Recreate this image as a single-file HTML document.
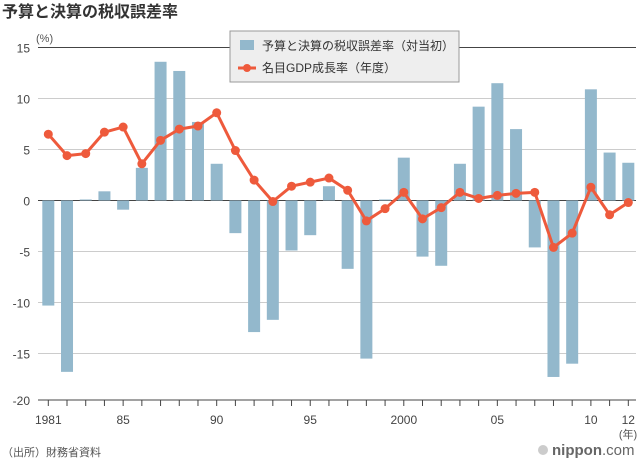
<!DOCTYPE html>
<html><head><meta charset="utf-8"><style>
body{margin:0;background:#fff;font-family:"Liberation Sans","Noto Sans CJK JP",sans-serif;}
svg text{font-family:"Liberation Sans","Noto Sans CJK JP",sans-serif;}
</style></head><body>
<svg id="c" width="640" height="460">
<text x="2" y="17" font-size="16" font-weight="bold" fill="#333">予算と決算の税収誤差率</text>
<text x="36" y="42" font-size="11" fill="#555">(%)</text>
<g id="grid"></g><g id="bars"></g><g id="line"></g><g id="axis"></g>
<g>
<rect x="230" y="31" width="229" height="51" fill="#eee" stroke="#999"/>
<rect x="240" y="40" width="14" height="10" fill="#93b8cc"/>
<text x="262" y="50" font-size="12" fill="#333">予算と決算の税収誤差率（対当初）</text>
<line x1="238" y1="68" x2="256" y2="68" stroke="#ee5a3c" stroke-width="3"/><circle cx="247" cy="68" r="4" fill="#ee5a3c"/>
<text x="262" y="72" font-size="12" fill="#333">名目GDP成長率（年度）</text>
</g>
<text x="2" y="456" font-size="11" fill="#555">（出所）財務省資料</text>
<circle cx="543" cy="450" r="5" fill="#ccc"/>
<text x="552" y="455" font-size="15" font-weight="bold" fill="#666">nippon<tspan font-weight="normal">.com</tspan></text>
</svg>
<script>
const years=[1981,1982,1983,1984,1985,1986,1987,1988,1989,1990,1991,1992,1993,1994,1995,1996,1997,1998,1999,2000,2001,2002,2003,2004,2005,2006,2007,2008,2009,2010,2011,2012];
const taxError=[-10.3,-16.8,0.1,0.9,-0.9,3.2,13.6,12.7,7.7,3.6,-3.2,-12.9,-11.7,-4.9,-3.4,1.4,-6.7,-15.5,0.1,4.2,-5.5,-6.4,3.6,9.2,11.5,7.0,-4.6,-17.3,-16.0,10.9,4.7,3.7];
const gdpGrowth=[6.5,4.4,4.6,6.7,7.2,3.6,5.9,7.0,7.3,8.6,4.9,2.0,-0.1,1.4,1.8,2.2,1.0,-2.0,-0.8,0.8,-1.8,-0.7,0.8,0.2,0.5,0.7,0.8,-4.6,-3.2,1.3,-1.4,-0.2];
const yTicks=[15,10,5,0,-5,-10,-15,-20];
const xLabels=[[1981,"1981"],[1985,"85"],[1990,"90"],[1995,"95"],[2000,"2000"],[2005,"05"],[2010,"10"],[2012,"12"]];
const NS="http://www.w3.org/2000/svg";
const x=yr=>48.3+(yr-1981)*18.71;
const y=v=>200.5-v*10.2;
function mk(p,t,a){const e=document.createElementNS(NS,t);for(const k in a)e.setAttribute(k,a[k]);document.getElementById(p).appendChild(e);return e;}
yTicks.forEach(t=>{
 const yy=t===-20?400:y(t);
 const l=mk('grid','line',{x1:38,x2:636,y1:yy,y2:yy,stroke:(t===15||t===0||t===-20)?'#444':'#ccc','stroke-width':1});
 
 
 const tx=mk('grid','text',{x:30,y:yy+5,'font-size':12,fill:'#444','text-anchor':'end'});tx.textContent=t;
 
 
});
years.forEach((yr,i)=>{
 const v=taxError[i];
 const r=mk('bars','rect',{x:x(yr)-6,width:12,y:Math.min(y(v),y(0)),height:Math.abs(y(v)-y(0)),fill:'#93b8cc'});
 
 
 mk('axis','line',{x1:x(yr),x2:x(yr),y1:400,y2:406,stroke:'#444'});
});
mk('grid','line',{x1:38,x2:636,y1:y(0),y2:y(0),stroke:'#444'});
const pl=mk('line','polyline',{points:years.map((yr,i)=>x(yr)+','+y(gdpGrowth[i])).join(' '),fill:'none',stroke:'#ee5a3c','stroke-width':3,'stroke-linejoin':'round'});


years.forEach((yr,i)=>{
 const c=mk('line','circle',{cx:x(yr),cy:y(gdpGrowth[i]),r:4.5,fill:'#ee5a3c'});
 
 
});
xLabels.forEach(([yr,s])=>{
 const t=mk('axis','text',{x:x(yr),y:424,'font-size':12,fill:'#444','text-anchor':'middle'});t.textContent=s;
 
 
});
const u=mk('axis','text',{x:628,y:438,'font-size':11,fill:'#555','text-anchor':'middle'});u.textContent='(年)';


</script>
</body></html>
